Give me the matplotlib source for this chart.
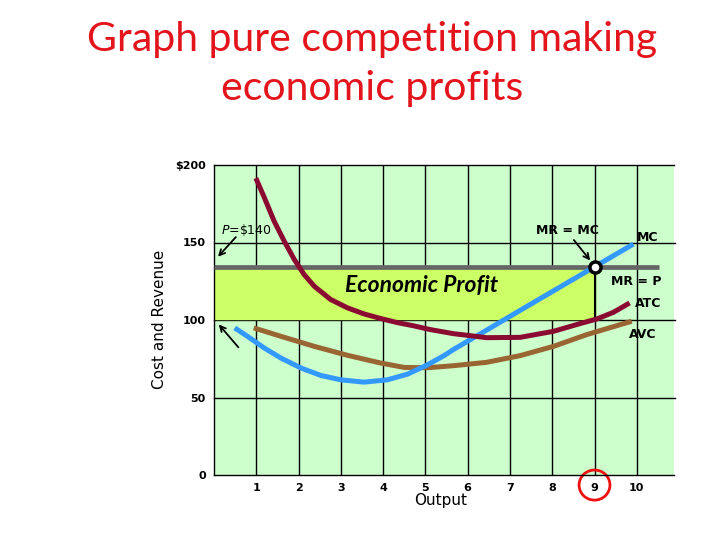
import numpy as np
import matplotlib.pyplot as plt
from matplotlib.patches import Ellipse

# data
atc_x = [0.99, 1.19, 1.42, 1.66, 1.90, 2.13, 2.37, 2.76, 3.16, 3.55, 3.95, 4.34, 4.73,
         5.1, 5.66, 6.45, 7.24, 8.03, 8.66, 9.06, 9.45, 9.83]
atc_y = [191.5, 179, 163.9, 150.9, 139, 129.4, 121.8, 113.2, 107.8, 103.9, 100.9, 98.3, 96.2,
         93.9, 91.2, 88.6, 88.8, 92.7, 97.7, 100.7, 105, 111]

mc_x = [0.49, 0.79, 1.19, 1.58, 2.06, 2.53, 3.0, 3.55, 4.1, 4.58, 5.05, 5.44, 5.66,
        6.45, 7.24, 8.03, 9.03, 9.92]
mc_y = [94.9, 89.5, 81.9, 75.5, 69, 64.2, 61.4, 59.9, 61.4, 65.1, 71.1, 77, 80.9,
        93.5, 106.2, 118.8, 134.8, 149]

avc_x = [0.94, 1.58, 2.37, 3.16, 3.95, 4.5, 5.05, 5.66, 6.45, 7.24, 8.03, 8.82, 9.88]
avc_y = [94.9, 89.5, 83, 77.2, 72.2, 69.4, 69.2, 70.5, 72.7, 77, 83, 90.6, 99.2]

price = 134
q_star = 9
atc_at_q = 100.5
x_ticks = [1, 2, 3, 4, 5, 6, 7, 8, 9, 10]
y_ticks = [0, 50, 100, 150, 200]
y_labels = ['0', '50', '100', '150', '$200']

plt.rcParams['font.family'] = ['Lato', 'DejaVu Sans']

fig = plt.figure(figsize=(7.2, 5.4), dpi=100)
ax = fig.add_axes([214/720, 1-475/540, 460/720, 310/540])
ax.set_facecolor('#ccffcc')
ax.set_xlim(0, 10.88)
ax.set_ylim(0, 200)

# grid
for xv in x_ticks:
    ax.axvline(xv, color='black', lw=1, zorder=1)
for yv in [50, 100, 150]:
    ax.axhline(yv, color='black', lw=1, zorder=1, clip_on=False, xmax=1.003)

# profit rectangle
ax.fill_between([0, q_star], atc_at_q, price, color='#ccff66', zorder=2)
ax.plot([q_star, q_star], [atc_at_q, price], color='black', lw=1.5, zorder=3)

ax.plot([0, 10.53], [price, price], color='#666666', lw=3.4, zorder=4, solid_capstyle='butt')
ax.plot(avc_x, avc_y, color='#996633', lw=3.6, zorder=5, solid_capstyle='butt')
ax.plot(mc_x, mc_y, color='#3399ff', lw=3.6, zorder=6, solid_capstyle='butt')
ax.plot(atc_x, atc_y, color='#8b0a32', lw=3.6, zorder=7, solid_capstyle='butt')
ax.plot([q_star], [price], 'o', ms=8, mfc='white', mec='black', mew=2.5, zorder=9)

ax.text(4.91, 122.5, 'Economic Profit', fontsize=16.5, fontstyle='italic',
        fontweight='bold', ha='center', va='center', zorder=8)

lbl = dict(fontsize=9, fontweight='bold', family='DejaVu Sans', zorder=8)
ax.text(0.17, 158, r'$P$=\$140', fontsize=9, family='DejaVu Sans', va='center')
ax.annotate('', xy=(0.05, 139.5), xytext=(0.56, 154.8),
            arrowprops=dict(arrowstyle='->', color='black', lw=1.3))
ax.annotate('', xy=(0.07, 98.5), xytext=(0.62, 81),
            arrowprops=dict(arrowstyle='->', color='black', lw=1.3))
ax.text(8.35, 158, 'MR = MC', ha='center', va='center', **lbl)
ax.annotate('', xy=(8.94, 137), xytext=(8.47, 153),
            arrowprops=dict(arrowstyle='->', color='black', lw=1.3))
ax.text(10.25, 153, 'MC', ha='center', va='center', **lbl)
ax.text(9.99, 125, 'MR = P', ha='center', va='center', **lbl)
ax.text(10.26, 110.6, 'ATC', ha='center', va='center', **lbl)
ax.text(10.14, 90.6, 'AVC', ha='center', va='center', **lbl)

ax.set_xticks(x_ticks)
ax.set_xticklabels([str(v) for v in x_ticks], fontsize=8, fontweight='bold', family='DejaVu Sans')
ax.set_yticks(y_ticks)
ax.set_yticklabels(y_labels, fontsize=8, fontweight='bold', family='DejaVu Sans')
ax.tick_params(length=0, pad=6)
for s in ax.spines.values():
    s.set_linewidth(1)
ax.spines['right'].set_visible(False)

ax.add_patch(Ellipse((q_star, -6.5), 0.73, 19.4, transform=ax.transData,
                     fill=False, ec='#ee1111', lw=2, clip_on=False))

fig.text(441/720, 1-501/540, 'Output', fontsize=11, ha='center', va='center', family='DejaVu Sans')
fig.text(160/720, 1-319/540, 'Cost and Revenue', fontsize=11, rotation=90,
         ha='center', va='center', family='DejaVu Sans')
fig.text(372/720, 1-64/540, 'Graph pure competition making\neconomic profits', fontsize=29.5,
         color='#e3141c', ha='center', va='center', linespacing=1.42)

fig.savefig('out.png', dpi=100)
